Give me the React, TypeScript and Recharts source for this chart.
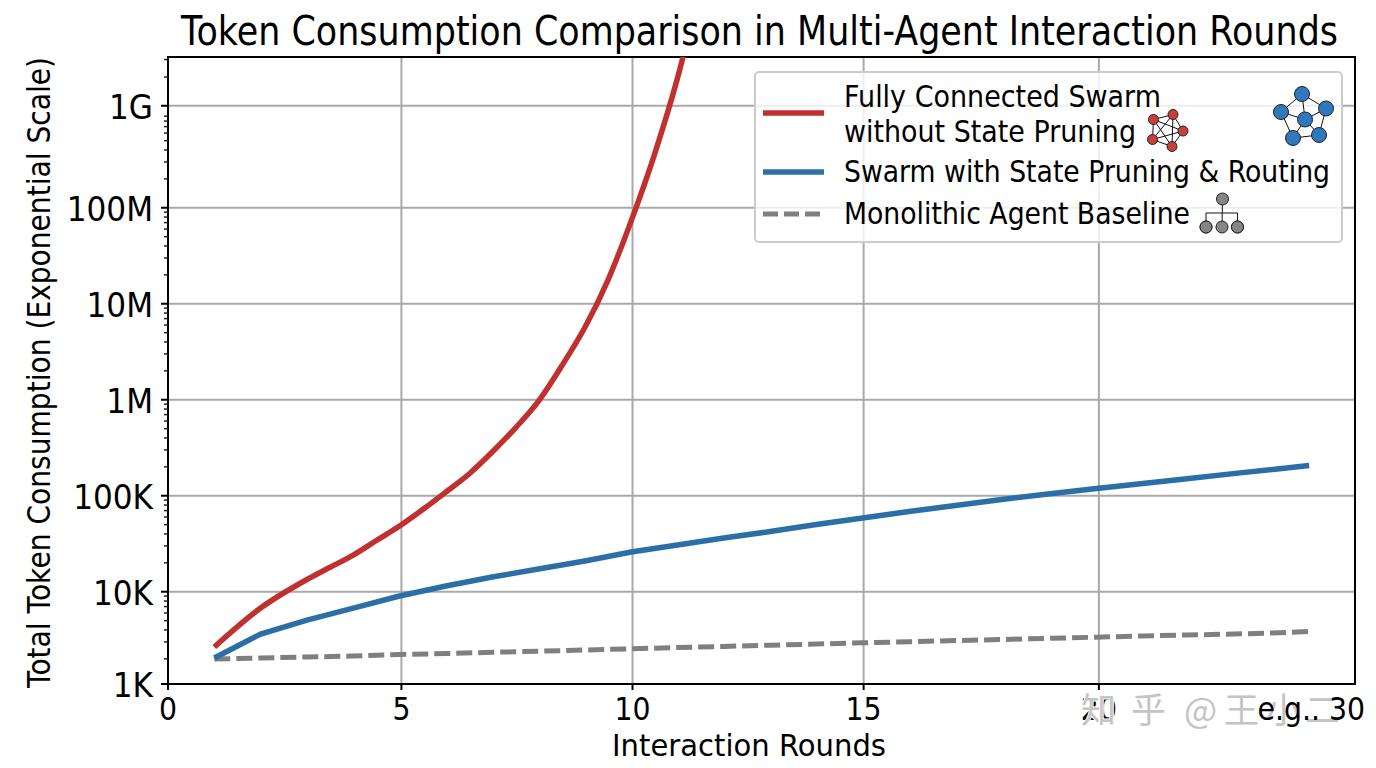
import { CartesianGrid, Label, Line, LineChart, ReferenceArea, XAxis, YAxis } from "recharts";

const rounds = [1, 2, 3, 4, 5, 6, 7, 8, 9, 10, 11, 12, 13, 14, 15, 16, 17, 18, 19, 20, 21, 22, 23, 24, 24.64];
const pruned = [2037, 3622, 5070, 6760, 9020, 11460, 14220, 17220, 20890, 25940, 30630, 36220, 42360, 50120, 58610, 68390, 79070, 91200, 104200, 118000, 133000, 150300, 169900, 191500, 206800];
const baseline = [1990, 2037, 2089, 2138, 2218, 2270, 2339, 2399, 2472, 2541, 2618, 2692, 2773, 2851, 2938, 3013, 3097, 3177, 3266, 3357, 3459, 3540, 3622, 3733, 3846];

// the red curve bends hard, so it is read at half rounds too
const redRounds = [1, 2, 3, 3.5, 4, 4.5, 5, 5.5, 6, 6.5, 7, 7.5, 8, 8.5, 9, 9.5, 10, 10.5, 11, 11.5];
const fullyConnected = [2655, 6760, 13400, 17990, 24100, 34150, 48300, 71800, 109300, 168300, 285100, 507000, 968000, 2244000, 5650000, 17660000, 72600000, 354000000, 2230000000, 21400000000];

// the picture's axes are slightly uneven, so ticks sit a little off the round values
const xTicks = [0, 5.04, 10.03, 15.02, 20.1, 25.63];
const xTickLabels = ["0", "5", "10", "15", "20", "e.g.. 30"];
const xGrid = [5.04, 10.03, 15.02, 20.1];

const yMajor = [1093, 10000, 100000, 1000000, 10000000, 100000000, 1155000000];
const yMajorLabels = ["1K", "10K", "100K", "1M", "10M", "100M", "1G"];
const yMinor = [
  2000, 3000, 4000, 5000, 6000, 7000, 8000, 9000,
  20000, 30000, 40000, 50000, 60000, 70000, 80000, 90000,
  200000, 300000, 400000, 500000, 600000, 700000, 800000, 900000,
  2000000, 3000000, 4000000, 5000000, 6000000, 7000000, 8000000, 9000000,
  20000000, 30000000, 40000000, 50000000, 60000000, 70000000, 80000000, 90000000,
  200000000, 300000000, 400000000, 500000000, 600000000, 700000000, 800000000, 900000000,
  2300000000, 3500000000,
];
const xDomain = [0, 25.63];
const yDomain = [1093, 3720000000];

const watermarkChars = ["乎", "@", "王", "小", "二"];
const watermarkX = [1131, 1184, 1224, 1266, 1305];

const RED = "#c0302e";
const BLUE = "#2c6fa6";
const GREY = "#7f7f7f";
const FONT = "'DejaVu Sans', sans-serif";

const chartData = rounds.map((round, i) => ({ round, pruned: pruned[i], baseline: baseline[i] }));
const redData = redRounds.map((round, i) => ({ round, fullyConnected: fullyConnected[i] }));

function XTick({ x, y, payload }: any) {
  const i = xTicks.indexOf(payload.value);
  const last = i === xTicks.length - 1;
  return (
    <g>
      {!last && <line x1={x} x2={x} y1={y} y2={y + 6} stroke="#000" strokeWidth={2} />}
      <text
        transform={`translate(${last ? x + 10 : x},${y + 36}) scale(0.9,1)`}
        textAnchor={last ? "end" : "middle"}
        fontFamily={FONT}
        fontSize={31.5}
        fill="#000"
      >
        {xTickLabels[i]}
      </text>
    </g>
  );
}

function YTick({ x, y, payload }: any) {
  const i = yMajor.indexOf(payload.value);
  if (i < 0) return <line x1={x - 4} x2={x} y1={y} y2={y} stroke="#222" strokeWidth={1.5} />;
  return (
    <g>
      <line x1={x - 7} x2={x} y1={y} y2={y} stroke="#000" strokeWidth={2} />
      <text
        transform={`translate(${x - 15},${y + 13}) scale(0.9,1)`}
        textAnchor="end"
        fontFamily={FONT}
        fontSize={34.6}
        fill="#000"
      >
        {yMajorLabels[i]}
      </text>
    </g>
  );
}

function XTitle() {
  return (
    <text x={612} y={756} textLength={274} lengthAdjust="spacingAndGlyphs" fontFamily={FONT} fontSize={31} fill="#000">
      Interaction Rounds
    </text>
  );
}

function YTitle() {
  return (
    <text
      transform="translate(50,688) rotate(-90)"
      textLength={631}
      lengthAdjust="spacingAndGlyphs"
      fontFamily={FONT}
      fontSize={32}
      fill="#000"
    >
      Total Token Consumption (Exponential Scale)
    </text>
  );
}

function LegendText({ x, y, w, children }: any) {
  return (
    <text x={x} y={y} textLength={w} lengthAdjust="spacingAndGlyphs" fontFamily={FONT} fontSize={30} fill="#000">
      {children}
    </text>
  );
}

function Net({ nodes, edges, r, fill }: any) {
  return (
    <g>
      {edges.map(([a, b]: number[], i: number) => (
        <line key={i} x1={nodes[a][0]} y1={nodes[a][1]} x2={nodes[b][0]} y2={nodes[b][1]} stroke="#111" strokeWidth={1} />
      ))}
      {nodes.map(([cx, cy]: number[], i: number) => (
        <circle key={i} cx={cx} cy={cy} r={r} fill={fill} stroke="#222" strokeWidth={1} />
      ))}
    </g>
  );
}

function Overlay() {
  return (
    <svg width={1376} height={768} style={{ position: "absolute", left: 0, top: 0, zIndex: 3 }}>
      <text x={181} y={45} textLength={1157} lengthAdjust="spacingAndGlyphs" fontFamily={FONT} fontSize={41} fill="#000">
        Token Consumption Comparison in Multi-Agent Interaction Rounds
      </text>

      <rect x={755} y={72} width={587} height={170} rx={4} fill="#fff" fillOpacity={0.8} stroke="#ccc" strokeWidth={2} />
      <line x1={763} x2={824} y1={113} y2={113} stroke={RED} strokeWidth={5.5} />
      <line x1={763} x2={824} y1={172} y2={172} stroke={BLUE} strokeWidth={5.5} />
      <line x1={763} x2={824} y1={214} y2={214} stroke={GREY} strokeWidth={5} strokeDasharray="15 6" />
      <LegendText x={844} y={107} w={317}>Fully Connected Swarm</LegendText>
      <LegendText x={844} y={142} w={292}>without State Pruning</LegendText>
      <LegendText x={844} y={182} w={486}>Swarm with State Pruning &amp; Routing</LegendText>
      <LegendText x={844} y={224} w={346}>Monolithic Agent Baseline</LegendText>

      <Net
        nodes={[[1153.5, 119.5], [1173, 114.5], [1183, 131], [1172, 146.5], [1152.5, 139.5]]}
        edges={[[0, 1], [0, 2], [0, 3], [0, 4], [1, 2], [1, 3], [1, 4], [2, 3], [2, 4], [3, 4]]}
        r={5}
        fill="#c8403c"
      />
      <Net
        nodes={[[1302, 94], [1281, 112], [1326, 108.5], [1305, 119.5], [1293, 138], [1319, 135]]}
        edges={[[0, 1], [0, 2], [0, 3], [1, 3], [1, 4], [2, 3], [2, 5], [3, 4], [3, 5], [4, 5]]}
        r={7.5}
        fill="#2f78bd"
      />
      <Net
        nodes={[[1222.5, 199], [1206, 227], [1222, 227], [1237.5, 227]]}
        edges={[[0, 2]]}
        r={6}
        fill="#858585"
      />
      <path d="M1206 227V213H1237.5V227" fill="none" stroke="#111" strokeWidth={1} />
      <circle cx={1206} cy={227} r={6} fill="#858585" stroke="#222" strokeWidth={1} />
      <circle cx={1237.5} cy={227} r={6} fill="#858585" stroke="#222" strokeWidth={1} />

      <text
        x={1081}
        y={723}
        fontFamily="'Noto Sans CJK SC'"
        fontSize={35}
        fill="#c4c4c4"
        stroke="#fff"
        strokeWidth={2}
        paintOrder="stroke"
      >
        知
      </text>
    </svg>
  );
}

export default function App() {
  return (
    <div style={{ position: "fixed", left: 0, top: 0, width: 1376, height: 768, background: "#fff" }}>
      <svg width={1376} height={768} style={{ position: "absolute", left: 0, top: 0 }}>
        <text x={watermarkX.join(" ")} y={723} fontFamily="'Noto Sans CJK SC'" fontSize={35} fill="#c4c4c4">
          {watermarkChars.join("")}
        </text>
      </svg>
      <div style={{ position: "absolute", left: 0, top: 0, zIndex: 2 }}>
        <LineChart width={1376} height={768} data={chartData} margin={{ top: 57, right: 21, bottom: 0, left: 0 }}>
          <CartesianGrid stroke="#a9a9a9" strokeWidth={2} horizontalValues={yMajor.slice(1)} verticalValues={xGrid} />
          <XAxis
            dataKey="round"
            type="number"
            domain={xDomain}
            ticks={xTicks}
            interval={0}
            height={84}
            tick={<XTick />}
            tickLine={false}
            tickSize={0}
            tickMargin={0}
            axisLine={false}
            allowDataOverflow
          >
            <Label content={<XTitle />} />
          </XAxis>
          <YAxis
            type="number"
            scale="log"
            domain={yDomain}
            ticks={[...yMajor, ...yMinor]}
            interval={0}
            width={168}
            tick={<YTick />}
            tickLine={false}
            tickSize={0}
            tickMargin={0}
            axisLine={false}
            allowDataOverflow
          >
            <Label content={<YTitle />} />
          </YAxis>
          <Line dataKey="baseline" type="linear" stroke={GREY} strokeWidth={5} strokeDasharray="16 6" dot={false} isAnimationActive={false} />
          <Line dataKey="pruned" type="linear" stroke={BLUE} strokeWidth={5.5} dot={false} isAnimationActive={false} />
          <Line data={redData} dataKey="fullyConnected" type="monotone" stroke={RED} strokeWidth={5.5} dot={false} isAnimationActive={false} />
          <ReferenceArea x1={xDomain[0]} x2={xDomain[1]} y1={yDomain[0]} y2={yDomain[1]} fill="none" stroke="#000" strokeWidth={2} />
        </LineChart>
      </div>
      <Overlay />
    </div>
  );
}
